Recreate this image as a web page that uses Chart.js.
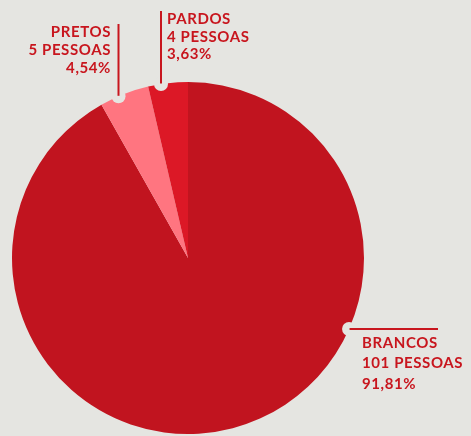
<!DOCTYPE html>
<html>
<head>
<meta charset="utf-8">
<script src="https://cdn.jsdelivr.net/npm/chart.js@4"></script>
<style>
  html, body { margin: 0; padding: 0; background: #e5e5e1; }
  #wrap { width: 471px; height: 436px; position: relative; }
</style>
</head>
<body>
<div id="wrap"><canvas id="c" width="471" height="436"></canvas></div>
<script>
// ---- data ----
const categories = ['BRANCOS', 'PRETOS', 'PARDOS'];
const pessoas = [101, 5, 4];
const sliceColors = ['#c1141f', '#ff7580', '#dc1826'];

// ---- styles / layout ----
const BG = '#e5e5e1';
const INK = '#c8161e';
const FONT = 'bold 15px Lato, "DejaVu Sans", sans-serif';
// leader layout per category: vertical leaders at a given x, horizontal at a given y
const leaders = [
  { dir: 'h', lineY: 329, lineEnd: 438, textX: 362, textY: 347.5, align: 'left', lineH: 20.5 },
  { dir: 'v', lineX: 118.5, lineTop: 24, textX: 111, textY: 37, align: 'right', lineH: 18 },
  { dir: 'v', lineX: 161, lineTop: 11, textX: 167, textY: 24, align: 'left', lineH: 17.7 }
];

const total = pessoas.reduce((a, b) => a + b, 0);
function pct(v) {
  const t = Math.floor(v / total * 10000) / 100;
  return t.toFixed(2).replace('.', ',') + '%';
}

const leaderPlugin = {
  id: 'leaders',
  afterDraw(chart) {
    const ctx = chart.ctx;
    const meta = chart.getDatasetMeta(0);
    const a0 = meta.data[0].getProps(['x', 'y', 'outerRadius'], true);
    const cx = a0.x, cy = a0.y, R = a0.outerRadius;
    ctx.save();
    leaders.forEach((L, i) => {
      let ax, ay;
      if (L.dir === 'v') {
        ax = L.lineX;
        ay = cy - Math.sqrt(R * R - (ax - cx) * (ax - cx));
      } else {
        ay = L.lineY;
        ax = cx + Math.sqrt(R * R - (ay - cy) * (ay - cy));
      }
      // notch
      ctx.fillStyle = BG;
      ctx.beginPath();
      ctx.arc(ax, ay, 7, 0, Math.PI * 2);
      ctx.fill();
      // leader line
      ctx.strokeStyle = INK;
      ctx.lineWidth = 2;
      ctx.beginPath();
      if (L.dir === 'v') {
        ctx.moveTo(ax, L.lineTop);
        ctx.lineTo(ax, ay - 0.5);
      } else {
        ctx.moveTo(ax + 0.5, ay);
        ctx.lineTo(L.lineEnd, ay);
      }
      ctx.stroke();
      // text
      ctx.fillStyle = INK;
      ctx.font = FONT;
      if ('letterSpacing' in ctx) ctx.letterSpacing = '0.6px';
      ctx.textAlign = L.align;
      ctx.textBaseline = 'alphabetic';
      const lines = [categories[i], pessoas[i] + ' PESSOAS', pct(pessoas[i])];
      lines.forEach((t, k) => ctx.fillText(t, L.textX, L.textY + k * L.lineH));
      if ('letterSpacing' in ctx) ctx.letterSpacing = '0px';
    });
    ctx.restore();
  }
};

const bgPlugin = {
  id: 'bg',
  beforeDraw(chart) {
    const ctx = chart.ctx;
    ctx.save();
    ctx.fillStyle = BG;
    ctx.fillRect(0, 0, chart.width, chart.height);
    ctx.restore();
  }
};

new Chart(document.getElementById('c'), {
  type: 'pie',
  data: {
    labels: categories,
    datasets: [{
      data: pessoas,
      backgroundColor: sliceColors,
      borderWidth: 0,
      hoverOffset: 0
    }]
  },
  options: {
    responsive: false,
    animation: false,
    layout: { padding: { left: 12, right: 107, top: 82, bottom: 2 } },
    plugins: {
      legend: { display: false },
      tooltip: { enabled: false }
    }
  },
  plugins: [bgPlugin, leaderPlugin]
});
</script>
</body>
</html>
